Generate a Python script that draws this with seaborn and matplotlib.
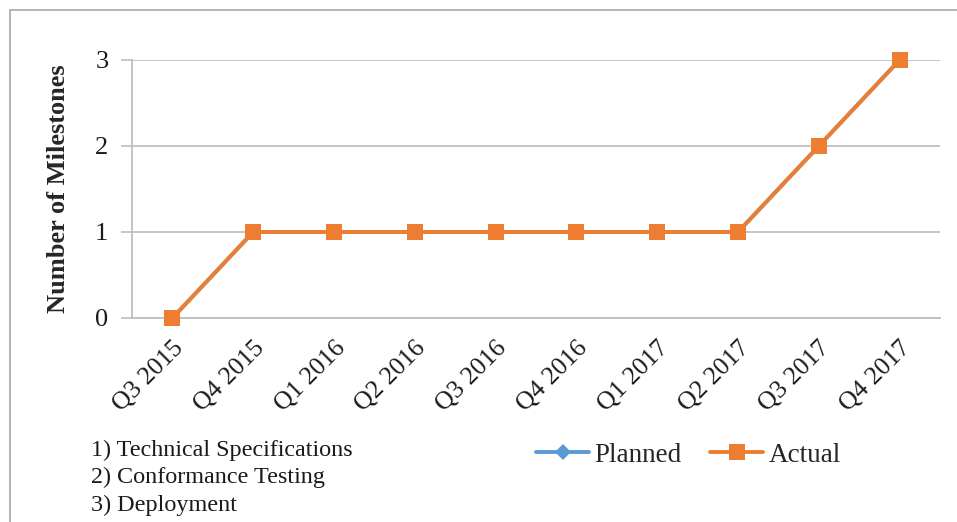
import matplotlib
matplotlib.use('Agg')
import matplotlib.pyplot as plt
import seaborn as sns
import pandas as pd
from matplotlib.patches import Rectangle
from matplotlib.ticker import FixedLocator

# --- data ---
quarters = ['Q3 2015', 'Q4 2015', 'Q1 2016', 'Q2 2016', 'Q3 2016',
            'Q4 2016', 'Q1 2017', 'Q2 2017', 'Q3 2017', 'Q4 2017']
planned = [0, 1, 1, 1, 1, 1, 1, 1, 2, 3]
actual = [0, 1, 1, 1, 1, 1, 1, 1, 2, 3]
notes = ['1) Technical Specifications', '2) Conformance Testing', '3) Deployment']

BLUE = '#5B9BD5'
ORANGE = '#ED7D31'
GRID = '#BFBFBF'

sns.set_style('white')
plt.rcParams['font.family'] = ['Liberation Serif', 'DejaVu Serif']

df = pd.DataFrame({'pos': list(range(len(quarters))) * 2,
                   'value': planned + actual,
                   'series': ['Planned'] * len(planned) + ['Actual'] * len(actual)})

fig = plt.figure(figsize=(9.57, 5.22), dpi=100)
ax = fig.add_axes([132 / 957, 1 - 318 / 522, (940 - 132) / 957, (318 - 60) / 522])

sns.lineplot(data=df[df.series == 'Planned'], x='pos', y='value', ax=ax,
             color=BLUE, lw=2.8, marker='D', markersize=8, markeredgewidth=0,
             label='Planned', zorder=3, clip_on=False)
sns.lineplot(data=df[df.series == 'Actual'], x='pos', y='value', ax=ax,
             color=ORANGE, lw=2.8, marker='s', markersize=11.5, markeredgewidth=0,
             label='Actual', zorder=4, clip_on=False)

n = len(quarters)
ax.set_xlim(-0.5, n - 0.5)
ax.set_ylim(0, 3)
ax.set_yticks([0, 1, 2, 3])
ax.set_xticks(range(n))
ax.set_xticklabels(quarters, rotation=45, ha='right', rotation_mode='anchor', fontsize=18.5)
ax.xaxis.set_minor_locator(FixedLocator([i - 0.5 for i in range(n + 1)]))
ax.tick_params(axis='x', which='major', length=0, pad=14)
ax.tick_params(axis='x', which='minor', length=7, color=GRID, width=1.2, direction='out')
ax.tick_params(axis='y', length=8, color=GRID, width=1.2, labelsize=19, pad=9, left=True)
for t in ax.get_xticklabels() + ax.get_yticklabels():
    t.set_color('#1a1a1a')

ax.grid(axis='y', color=GRID, lw=1.3)
ax.set_axisbelow(True)
for s in ['top', 'right']:
    ax.spines[s].set_visible(False)
for s in ['left', 'bottom']:
    ax.spines[s].set_color(GRID)
    ax.spines[s].set_linewidth(1.3)

ax.set_xlabel('')
ax.set_ylabel('Number of Milestones', fontsize=19, fontweight='bold', labelpad=18)

ax.get_legend().remove()
handles, labels = ax.get_legend_handles_labels()
fig.legend(handles, labels, loc='center left', bbox_to_anchor=(512 / 957, 1 - 455 / 522),
           ncol=2, frameon=False, fontsize=19.5, handlelength=1.95, handletextpad=0.2,
           columnspacing=1.05)

for i, line in enumerate(notes):
    fig.text(91 / 957, 1 - (450 + i * 27.5) / 522, line, fontsize=17.4,
             va='center', ha='left', color='#1a1a1a')

fig.add_artist(Rectangle((10 / 957, -0.05), 1.0, 1 - 10 / 522 + 0.05,
                         transform=fig.transFigure, fill=False,
                         edgecolor='#A6A6A6', lw=1.2))

fig.savefig('out.png', dpi=100)
